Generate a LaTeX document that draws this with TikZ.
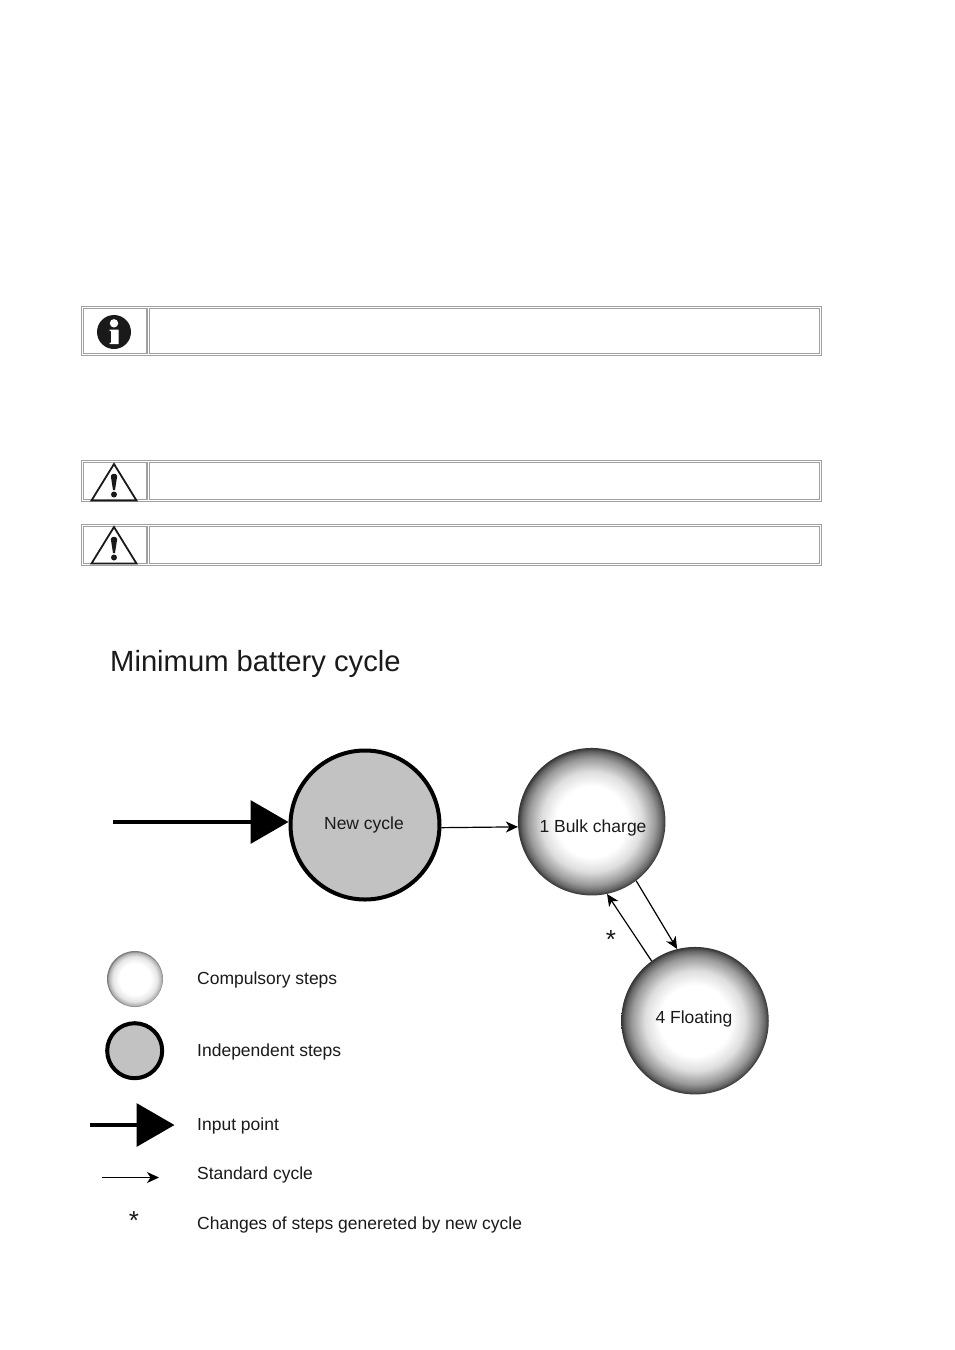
\documentclass[tikz,border=0pt]{standalone}
\usepackage{fontspec}
\setmainfont{Liberation Sans}
\usetikzlibrary{arrows.meta}
\definecolor{boxgray}{HTML}{A0A0A0}
\definecolor{ink}{HTML}{1A1A1A}
\pgfdeclareradialshading{ballbig}{\pgfpoint{0bp}{0bp}}{%
 color(0bp)=(white); color(12bp)=(white); color(17bp)=(black!13); color(21.5bp)=(black!40); color(23.7bp)=(black!60); color(25bp)=(black!80); color(50bp)=(black!80)}
\pgfdeclareradialshading{ballsmall}{\pgfpoint{0bp}{0bp}}{%
 color(0bp)=(white); color(14bp)=(white); color(20bp)=(black!10); color(23.5bp)=(black!30); color(25bp)=(black!55); color(50bp)=(black!55)}
\tikzset{
 x=1pt,y=-1pt,
 ball/.style={circle,inner sep=0pt,minimum size=147.5pt,shading=ballbig},
 legball/.style={circle,inner sep=0pt,minimum size=56pt,shading=ballsmall},
 indep/.style={circle,inner sep=0pt,draw=black,fill=black!24},
 lab/.style={font=\fontsize{17.5}{20}\selectfont,text=ink,inner sep=0pt},
 leg/.style={lab,anchor=west},
 star/.style={font=\fontsize{26}{26}\selectfont,text=ink,inner sep=0pt},
 thin arrow/.style={draw=black,line width=1.2pt,-{Stealth[length=12pt,width=11pt,inset=3.5pt]}},
 thick arrow/.style={draw=black,line width=3.5pt,-{Triangle[length=38pt,width=43pt]}},
 note/.style={draw=boxgray,line width=1.1pt,fill=none},
 warn/.style={draw=ink,line width=1.8pt,line join=miter},
}
\newcommand{\warnicon}[1]{%
 \draw[warn] (114,#1) -- (91.5,{#1+36.5}) -- (136.5,{#1+36.5}) -- cycle;
 \fill[ink] (110.8,{#1+12}) .. controls (111.5,{#1+9}) and (116.5,{#1+9}) .. (117.2,{#1+12}) -- (115,{#1+26}) -- (113,{#1+26}) -- cycle;
 \fill[ink] (114,{#1+30.5}) circle (3);
}
\newcommand{\notebox}[2]{%
 \draw[note] (81.5,#1) rectangle (821.5,#2);
 \draw[note] (83.5,{#1+2}) rectangle (147,{#2-2});
 \draw[note] (149.5,{#1+2}) rectangle (819.5,{#2-2});
}
\begin{document}
\begin{tikzpicture}
\useasboundingbox (0,0) rectangle (954,1350);
\fill[white] (0,0) rectangle (954,1350);
% note boxes
\notebox{306.5}{355.5}
\notebox{460.5}{501.5}
\notebox{524.5}{565.5}
% info icon
\fill[ink] (114,332) circle (17);
\fill[white] (114,323.3) circle (4.2);
\fill[white] (109.5,329.5) -- (118.5,329.5) -- (118.5,344) -- (109.5,344) -- (109.5,342.5) -- (111,342.5) -- (111,331) -- (109.5,331) -- cycle;
% warning icons
\warnicon{464}
\warnicon{527}
% title
\node[anchor=base west,inner sep=0pt,font=\fontsize{29.2}{32}\selectfont,text=ink] (title) at (110,671) {Minimum battery cycle};
% states
\node[indep,line width=4pt,minimum size=149pt] (newc) at (365,825) {};
\node[ball] (bulk) at (591.7,821.7) {};
\node[ball] (flo) at (695,1020.7) {};
\node[lab] (newt) at (364,825) {New cycle};
\node[lab] (bulkt) at (593,828) {1 Bulk charge};
\node[lab] (flot) at (694,1019) {4 Floating};
% connectors
\coordinate (start) at (113,822);
\draw[thick arrow] (start) -- (newc.west |- start);
\draw[thin arrow] (newc.-2.3) -- (bulk.184.9);
\draw[thin arrow] (bulk.-53) -- (flo.104);
\draw[thin arrow] (flo.126.5) -- (bulk.-78);
\node[star] (s1) at (611,939.5) {*};
% legend
\node[legball] (l1) at (135,979) {};
\node[indep,line width=4pt,minimum size=55pt] (l2) at (134.7,1050.7) {};
\coordinate (l3a) at (90,1125);
\coordinate (l3b) at (174.5,1125);
\draw[thick arrow] (l3a) -- (l3b);
\coordinate (l4a) at (102,1177.5);
\coordinate (l4b) at (159,1177.5);
\draw[thin arrow] (l4a) -- (l4b);
\node[star] (l5) at (134,1220.5) {*};
\node[leg] (t1) at (197,980) {Compulsory steps};
\node[leg] (t2) at (197,1051.5) {Independent steps};
\node[leg] (t3) at (197,1126) {Input point};
\node[leg] (t4) at (197,1175) {Standard cycle};
\node[leg] (t5) at (197,1224.5) {Changes of steps genereted by new cycle};
\end{tikzpicture}
\end{document}
